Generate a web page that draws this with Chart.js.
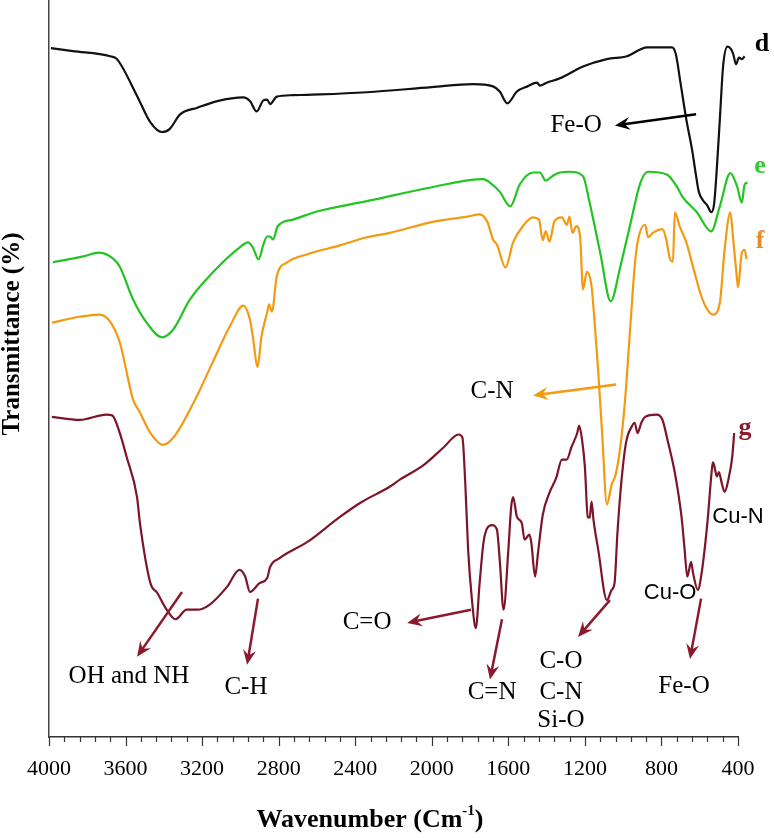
<!DOCTYPE html>
<html>
<head>
<meta charset="utf-8">
<script src="https://cdn.jsdelivr.net/npm/chart.js@4.4.1/dist/chart.umd.min.js"></script>
<style>
  html, body { margin: 0; padding: 0; background: #fff; }
</style>
</head>
<body>
<canvas id="ftir" width="774" height="838"></canvas>
<script>
// FTIR spectra d, e, f, g — wavenumber (cm-1) vs transmittance (arbitrary, 0-100 over the plot height)
const wnD = [3990, 3875, 3680, 3645, 3540, 3470, 3410, 3370, 3315, 3225,
	3120, 2985, 2950, 2915, 2880, 2860, 2845, 2810, 2725, 2585,
	2340, 2000, 1785, 1680, 1645, 1605, 1555, 1500, 1450, 1435,
	1400, 1330, 1210, 1085, 980, 875, 745, 725, 700, 670,
	640, 620, 605, 585, 560, 540, 525, 510, 494, 478,
	455, 435, 425, 410, 395, 380, 365];
const tD = [93.6, 93.2, 92.5, 92.1, 87.1, 83.5, 82.2, 82.6, 84.6, 85.5,
	86.4, 86.9, 86.4, 85.0, 86.5, 86.6, 86.0, 87.0, 87.2, 87.3,
	87.6, 88.3, 88.7, 88.4, 87.7, 86.1, 87.7, 88.4, 88.9, 88.5,
	88.9, 89.5, 91.1, 92.1, 92.5, 93.7, 93.7, 92.8, 88.8, 83.9,
	79.8, 76.4, 74.1, 73.0, 72.2, 71.3, 72.4, 77.5, 84.3, 91.1,
	93.8, 93.4, 92.8, 91.4, 92.3, 92.1, 92.5];

const wnE = [3980, 3820, 3740, 3665, 3630, 3560, 3490, 3410, 3350, 3265,
	3145, 3000, 2960, 2935, 2905, 2880, 2860, 2845, 2830, 2805,
	2725, 2600, 2340, 2000, 1730, 1695, 1645, 1590, 1540, 1470,
	1435, 1405, 1365, 1330, 1280, 1210, 1175, 1120, 1065, 1015,
	965, 910, 870, 770, 720, 690, 615, 540, 495, 440,
	405, 380, 365, 350];
const tE = [64.5, 65.3, 65.8, 65.0, 63.9, 59.4, 56.3, 54.3, 55.4, 59.4,
	63.1, 66.6, 67.2, 66.5, 64.9, 66.9, 68.0, 68.0, 67.6, 69.4,
	70.3, 71.4, 72.8, 74.7, 75.8, 75.3, 74.1, 72.1, 75.1, 76.7,
	76.7, 75.6, 76.3, 76.7, 76.8, 76.2, 72.6, 65.8, 59.2, 63.9,
	69.4, 75.3, 76.8, 76.4, 74.8, 73.4, 71.3, 68.7, 72.1, 76.6,
	74.8, 72.6, 75.1, 75.3];

const wnF = [3985, 3840, 3735, 3680, 3630, 3560, 3525, 3470, 3405, 3350,
	3245, 3145, 3055, 2985, 2950, 2935, 2910, 2890, 2860, 2850,
	2835, 2810, 2755, 2650, 2480, 2340, 2220, 1995, 1815, 1750,
	1710, 1680, 1660, 1615, 1575, 1525, 1470, 1440, 1420, 1405,
	1385, 1360, 1320, 1295, 1280, 1265, 1245, 1225, 1210, 1190,
	1165, 1145, 1130, 1110, 1085, 1060, 1040, 1015, 990, 965,
	940, 925, 885, 870, 845, 795, 775, 755, 740, 730,
	705, 670, 635, 585, 530, 495, 470, 440, 425, 405,
	400, 380, 365, 355];
const tF = [56.3, 57.1, 57.4, 56.4, 53.6, 45.8, 44.1, 41.3, 39.7, 40.7,
	45.4, 50.9, 55.8, 58.6, 56.7, 54.4, 50.3, 54.4, 57.7, 58.8,
	57.8, 62.6, 64.5, 65.6, 66.8, 67.9, 68.5, 70.0, 70.7, 71.0,
	70.0, 67.6, 66.9, 63.8, 67.2, 69.4, 70.6, 70.3, 67.5, 68.7,
	67.3, 70.0, 70.6, 69.6, 70.7, 68.5, 69.4, 68.0, 60.8, 63.2,
	61.2, 54.9, 49.5, 41.3, 31.6, 34.3, 35.6, 39.4, 45.8, 54.9,
	63.9, 67.2, 69.6, 67.9, 68.5, 69.0, 67.6, 64.9, 64.6, 71.3,
	69.4, 67.2, 63.9, 59.4, 57.4, 59.0, 66.2, 71.3, 67.6, 62.2,
	61.1, 65.8, 66.2, 64.9];

const wnG = [3985, 3840, 3700, 3670, 3630, 3595, 3540, 3525, 3470, 3435,
	3385, 3340, 3280, 3225, 3160, 3070, 3005, 2975, 2950, 2900,
	2860, 2845, 2795, 2650, 2480, 2375, 2220, 2165, 2045, 1940,
	1860, 1840, 1825, 1810, 1790, 1770, 1750, 1730, 1710, 1685,
	1660, 1645, 1625, 1600, 1585, 1575, 1555, 1530, 1515, 1490,
	1480, 1460, 1445, 1420, 1385, 1350, 1320, 1295, 1270, 1240,
	1230, 1215, 1200, 1185, 1175, 1165, 1155, 1130, 1085, 1060,
	1045, 1030, 1010, 985, 955, 940, 925, 905, 885, 825,
	795, 765, 730, 695, 680, 665, 645, 635, 610, 590,
	560, 535, 530, 510, 500, 485, 470, 450, 430, 420];
const tG = [43.5, 43.1, 43.8, 43.7, 41.3, 38.1, 32.6, 29.1, 20.9, 19.6,
	17.3, 16.0, 17.3, 17.3, 18.0, 20.4, 22.7, 21.8, 19.7, 20.9,
	21.6, 23.1, 24.3, 26.5, 29.9, 31.8, 34.0, 35.0, 36.9, 39.3,
	41.1, 40.7, 34.5, 25.4, 18.6, 14.8, 20.9, 26.4, 28.4, 28.8,
	28.2, 24.1, 17.3, 25.4, 31.3, 32.6, 29.9, 29.1, 26.8, 27.5,
	26.4, 21.8, 25.0, 30.2, 33.2, 35.2, 37.7, 37.7, 39.4, 41.3,
	42.3, 40.4, 36.7, 29.9, 29.8, 32.0, 29.5, 25.4, 18.6, 20.0,
	20.9, 27.7, 34.5, 40.0, 42.2, 42.7, 41.3, 42.7, 43.5, 43.8,
	43.1, 40.0, 35.9, 29.9, 25.8, 21.8, 23.8, 22.3, 20.0, 22.3,
	29.1, 36.7, 37.3, 35.4, 36.0, 34.5, 33.3, 35.0, 38.1, 41.3];

const xTicks = [4000, 3600, 3200, 2800, 2400, 2000, 1600, 1200, 800, 400];

const SERIF = '"Liberation Serif", "Times New Roman", serif';
const SANS = '"Liberation Sans", Arial, sans-serif';
const RED = '#7d1428';
const ARROW_RED = '#8a1b2d';
const ORANGE = '#f39a12';
const GREEN = '#22c422';

// peak assignments: text placed in data coordinates
const notes = [
	{ text: 'Fe-O', at: [1246, 83.1], font: '25px ' + SERIF },
	{ text: 'C-N', at: [1685, 46.9], font: '25px ' + SERIF },
	{ text: 'OH and NH', at: [3582, 8.2], font: '25px ' + SERIF },
	{ text: 'C-H', at: [2971, 6.8], font: '25px ' + SERIF },
	{ text: 'C=O', at: [2338, 15.6], font: '25px ' + SERIF },
	{ text: 'C=N', at: [1685, 6.0], font: '25px ' + SERIF },
	{ text: 'C-O', at: [1325, 10.2], font: '25px ' + SERIF },
	{ text: 'C-N', at: [1325, 6.1], font: '25px ' + SERIF },
	{ text: 'Si-O', at: [1325, 2.3], font: '25px ' + SERIF },
	{ text: 'Cu-O', at: [755, 19.6], font: '22px ' + SANS },
	{ text: 'Fe-O', at: [682, 6.9], font: '25px ' + SERIF },
	{ text: 'Cu-N', at: [400, 29.9], font: '22px ' + SANS }
];
const arrows = [
	{ from: [619, 84.6], to: [1043, 83.1], color: '#000' },
	{ from: [1037, 47.9], to: [1471, 46.4], color: ORANGE },
	{ from: [3305, 19.7], to: [3540, 10.9], color: ARROW_RED },
	{ from: [2908, 18.8], to: [2965, 9.8], color: ARROW_RED },
	{ from: [1795, 17.3], to: [2129, 15.5], color: ARROW_RED },
	{ from: [1633, 16.0], to: [1696, 7.8], color: ARROW_RED },
	{ from: [1069, 18.6], to: [1236, 13.6], color: ARROW_RED },
	{ from: [593, 18.8], to: [651, 10.6], color: ARROW_RED }
];
const tags = [
	{ text: 'd', at: [275, 94.1], color: '#000' },
	{ text: 'e', at: [285, 77.5], color: '#33cc33' },
	{ text: 'f', at: [285, 67.3], color: '#e8892c' },
	{ text: 'g', at: [363, 42.0], color: '#8b1a2a' }
];

const toXY = (xs, ys) => xs.map((x, i) => ({ x, y: ys[i] }));

function drawArrow(ctx, x1, y1, x2, y2, color) {
	const ang = Math.atan2(y2 - y1, x2 - x1);
	const len = 15, half = 6.5;
	ctx.save();
	ctx.strokeStyle = color;
	ctx.fillStyle = color;
	ctx.lineWidth = 2.5;
	ctx.beginPath();
	ctx.moveTo(x1, y1);
	ctx.lineTo(x2 - Math.cos(ang) * len * 0.6, y2 - Math.sin(ang) * len * 0.6);
	ctx.stroke();
	ctx.translate(x2, y2);
	ctx.rotate(ang);
	ctx.beginPath();
	ctx.moveTo(0, 0);
	ctx.lineTo(-len, -half);
	ctx.lineTo(-len * 0.65, 0);
	ctx.lineTo(-len, half);
	ctx.closePath();
	ctx.fill();
	ctx.restore();
}

const decorations = {
	id: 'decorations',
	afterDatasetsDraw(chart) {
		const { ctx, chartArea, scales: { x, y } } = chart;
		ctx.save();
		// x tick marks: long at labelled ticks, short in between
		ctx.strokeStyle = '#333';
		ctx.lineWidth = 1.2;
		x.ticks.forEach(t => {
			const px = Math.round(x.getPixelForValue(t.value)) + 0.5;
			const len = xTicks.includes(t.value) ? 9 : 5;
			ctx.beginPath();
			ctx.moveTo(px, chartArea.bottom);
			ctx.lineTo(px, chartArea.bottom + len);
			ctx.stroke();
		});

		arrows.forEach(a => drawArrow(ctx,
			x.getPixelForValue(a.from[0]), y.getPixelForValue(a.from[1]),
			x.getPixelForValue(a.to[0]), y.getPixelForValue(a.to[1]), a.color));

		ctx.textAlign = 'center';
		ctx.textBaseline = 'middle';
		notes.forEach(n => {
			ctx.font = n.font;
			ctx.fillStyle = '#000';
			ctx.fillText(n.text, x.getPixelForValue(n.at[0]), y.getPixelForValue(n.at[1]));
		});
		ctx.font = 'bold 26px ' + SERIF;
		tags.forEach(t => {
			ctx.fillStyle = t.color;
			ctx.fillText(t.text, x.getPixelForValue(t.at[0]), y.getPixelForValue(t.at[1]));
		});

		// axis titles
		ctx.fillStyle = '#000';
		ctx.font = 'bold 26px ' + SERIF;
		const main = 'Wavenumber (Cm', sup = '-1', tail = ')';
		const wMain = ctx.measureText(main).width, wTail = ctx.measureText(tail).width;
		ctx.font = 'bold 15px ' + SERIF;
		const wSup = ctx.measureText(sup).width;
		let tx = 370 - (wMain + wSup + wTail) / 2;
		ctx.textAlign = 'left';
		ctx.textBaseline = 'alphabetic';
		ctx.font = 'bold 26px ' + SERIF;
		ctx.fillText(main, tx, 827);
		ctx.font = 'bold 15px ' + SERIF;
		ctx.fillText(sup, tx + wMain, 815);
		ctx.font = 'bold 26px ' + SERIF;
		ctx.fillText(tail, tx + wMain + wSup, 827);

		ctx.translate(13, 334);
		ctx.rotate(-Math.PI / 2);
		ctx.textAlign = 'center';
		ctx.textBaseline = 'middle';
		ctx.font = 'bold 25px ' + SERIF;
		ctx.fillText('Transmittance (%)', 0, 0);
		ctx.restore();
	}
};

const line = (data, color) => ({
	data, borderColor: color, borderWidth: 2.2, pointRadius: 0,
	cubicInterpolationMode: 'monotone', clip: false
});

new Chart(document.getElementById('ftir'), {
	type: 'line',
	data: {
		datasets: [
			line(toXY(wnD, tD), '#111'),
			line(toXY(wnE, tE), GREEN),
			line(toXY(wnF, tF), ORANGE),
			line(toXY(wnG, tG), RED)
		]
	},
	options: {
		responsive: false,
		animation: false,
		events: [],
		layout: { padding: { top: 1, right: 36, left: 0, bottom: 0 } },
		plugins: { legend: { display: false }, tooltip: { enabled: false } },
		scales: {
			x: {
				type: 'linear',
				reverse: true,
				min: 400,
				max: 4000,
				border: { display: true, color: '#333', width: 1.5 },
				grid: { display: true, drawOnChartArea: false, drawTicks: false },
				ticks: {
					stepSize: 80,
					autoSkip: false,
					maxRotation: 0,
					padding: 19,
					color: '#000',
					font: { family: SERIF, size: 22 },
					callback: v => xTicks.includes(v) ? String(v) : ''
				},
				afterFit: s => { s.height = 101; }
			},
			y: {
				type: 'linear',
				min: 0,
				max: 100,
				border: { display: true, color: '#444', width: 1.5 },
				grid: { display: true, drawOnChartArea: false, drawTicks: false },
				ticks: { display: false },
				afterFit: s => { s.width = 49; }
			}
		}
	},
	plugins: [decorations]
});
</script>
</body>
</html>
